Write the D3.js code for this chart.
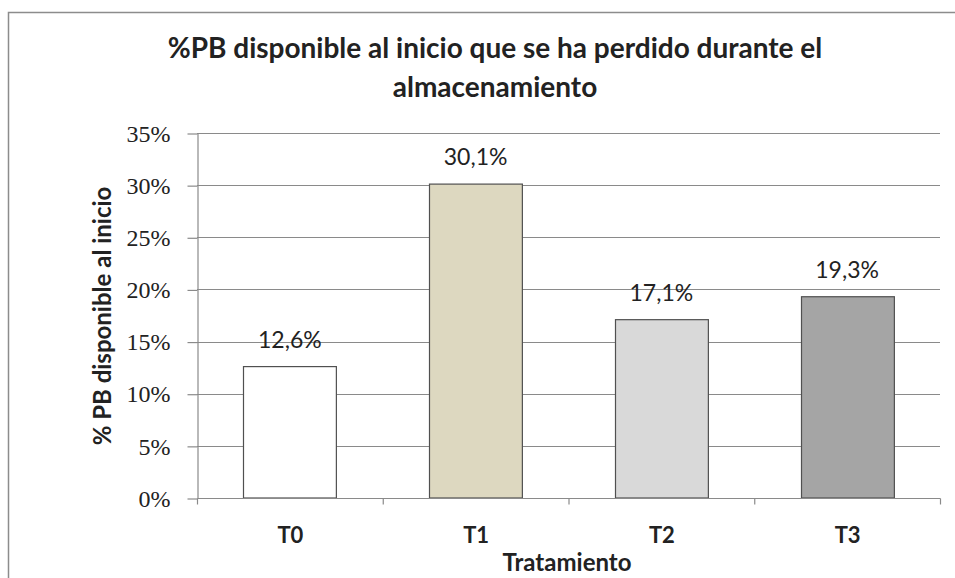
<!DOCTYPE html>
<html><head><meta charset="utf-8">
<script src="https://cdn.jsdelivr.net/npm/d3@7"></script>
<style>body{margin:0;background:#fff}svg{display:block}</style>
</head><body>
<svg id="c" width="955" height="578"></svg>
<script>
const categories = ["T0","T1","T2","T3"];
const values = [0.126, 0.301, 0.171, 0.193];
const valueLabels = ["12,6%","30,1%","17,1%","19,3%"];
const barColors = ["#ffffff","#ddd8c0","#d9d9d9","#a5a5a5"];
const yTicks = [0,0.05,0.10,0.15,0.20,0.25,0.30,0.35];
const titleLines = ["%PB disponible al inicio que se ha perdido durante el","almacenamiento"];
const yTitle = "% PB disponible al inicio";
const xTitle = "Tratamiento";

const svg = d3.select("#c");
const L=197, R=940, T=133, B=498;
svg.append("rect").attr("x",8.5).attr("y",12.5).attr("width",1000).attr("height",700)
  .attr("fill","#fff").attr("stroke","#8c8c8c").attr("stroke-width",1.5);

const x = d3.scaleBand().domain(categories).range([L,R]).paddingInner(0.5).paddingOuter(0.25);
const y = d3.scaleLinear().domain([0,0.35]).range([B,T]);

// gridlines
svg.append("g").selectAll("line").data(yTicks.slice(1)).join("line")
  .attr("x1",L).attr("x2",R).attr("y1",d=>Math.round(y(d))+0.5).attr("y2",d=>Math.round(y(d))+0.5)
  .attr("stroke","#8a8a8a").attr("stroke-width",1.2);

// bars
svg.append("g").selectAll("rect").data(categories).join("rect")
  .attr("x",d=>Math.round(x(d))+0.5).attr("width",x.bandwidth())
  .attr("y",(d,i)=>y(values[i])).attr("height",(d,i)=>B-y(values[i]))
  .attr("fill",(d,i)=>barColors[i]).attr("stroke","#505050").attr("stroke-width",1.2);

// y axis
const ya = d3.axisLeft(y).tickValues(yTicks).tickSize(10).tickSizeOuter(0).tickPadding(17)
  .tickFormat(d=>Math.round(d*100)+"%");
const gy = svg.append("g").attr("transform",`translate(${L+0.5},0.5)`).call(ya);
gy.select(".domain").attr("stroke","#8a8a8a").attr("stroke-width",1.2);
gy.selectAll(".tick line").attr("stroke","#8a8a8a").attr("stroke-width",1.2);
gy.selectAll(".tick text").attr("font-family","Liberation Serif").attr("font-size",24).attr("fill","#222");

// x axis
const gx = svg.append("g").attr("transform",`translate(0.5,${B+0.5})`);
gx.append("line").attr("x1",L).attr("x2",R).attr("stroke","#8a8a8a").attr("stroke-width",1.2);
const bounds = d3.range(categories.length+1).map(i=>L+ (R-L)*i/categories.length);
gx.selectAll(".tk").data(bounds).join("line").attr("class","tk")
  .attr("x1",d=>d).attr("x2",d=>d).attr("y1",0).attr("y2",6).attr("stroke","#8a8a8a").attr("stroke-width",1.2);
gx.selectAll("text").data(categories).join("text")
  .attr("x",d=>x(d)+x.bandwidth()/2).attr("y",44).attr("text-anchor","middle")
  .attr("font-family","Lato").attr("font-weight","bold").attr("font-size",22).attr("fill","#222").text(d=>d);

// value labels
svg.append("g").selectAll("text").data(categories).join("text")
  .attr("x",d=>x(d)+x.bandwidth()/2).attr("y",(d,i)=>y(values[i])-19).attr("text-anchor","middle")
  .attr("font-family","Lato").attr("font-size",23).attr("fill","#222").text((d,i)=>valueLabels[i]);

// titles
svg.append("g").selectAll("text").data(titleLines).join("text")
  .attr("x",495).attr("y",(d,i)=>58+i*39).attr("text-anchor","middle")
  .attr("font-family","Lato").attr("font-weight","bold").attr("font-size",28).attr("fill","#222").text(d=>d);
svg.append("text").attr("transform","translate(111,316) rotate(-90)").attr("text-anchor","middle")
  .attr("font-family","Lato").attr("font-weight","bold").attr("font-size",24).attr("fill","#222").text(yTitle);
svg.append("text").attr("x",567).attr("y",571).attr("text-anchor","middle")
  .attr("font-family","Lato").attr("font-weight","bold").attr("font-size",24).attr("fill","#222").text(xTitle);
</script>
</body></html>
